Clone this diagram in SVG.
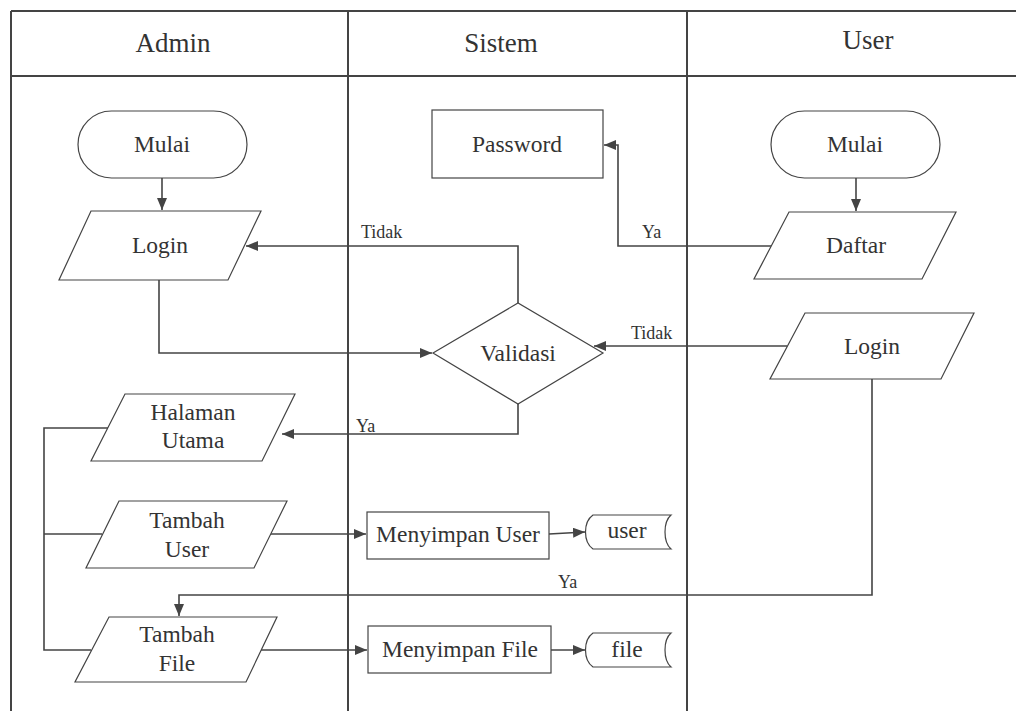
<svg xmlns="http://www.w3.org/2000/svg" width="1016" height="711" viewBox="0 0 1016 711">
<style>
.lane{stroke:#444;stroke-width:2;fill:none}
.shape{fill:#fff;stroke:#444;stroke-width:1.2}
.conn{fill:none;stroke:#444;stroke-width:1.6}
text{font-family:"Liberation Serif","Times New Roman",Tinos,"DejaVu Serif",serif;fill:#333}
.hd{font-size:27px;text-anchor:middle}
.t{font-size:23.5px;text-anchor:middle}
.lbl{font-size:18px}
</style>
<defs>
<marker id="ah" viewBox="0 0 12 10" refX="12" refY="5" markerWidth="12" markerHeight="10" markerUnits="userSpaceOnUse" orient="auto">
<path d="M0,0 L12,5 L0,10 Z" fill="#444"/>
</marker>
</defs>
<rect width="1016" height="711" fill="#fff"/>
<g id="lanes">
<line class="lane" x1="11" y1="11" x2="1016" y2="11"/>
<line class="lane" x1="11" y1="76" x2="1016" y2="76"/>
<line class="lane" x1="11" y1="11" x2="11" y2="711"/>
<line class="lane" x1="348" y1="11" x2="348" y2="711"/>
<line class="lane" x1="687" y1="11" x2="687" y2="711"/>
<text class="hd" x="173" y="52">Admin</text>
<text class="hd" x="501" y="52">Sistem</text>
<text class="hd" x="868" y="49">User</text>
</g>
<g id="connectors">
<line class="conn" x1="162" y1="178" x2="162" y2="210" marker-end="url(#ah)"/>
<line class="conn" x1="856" y1="178" x2="856" y2="211" marker-end="url(#ah)"/>
<polyline class="conn" points="772,246 618,246 618,145 604,145" marker-end="url(#ah)"/>
<polyline class="conn" points="518,303 518,246 246,246" marker-end="url(#ah)"/>
<polyline class="conn" points="159,280 159,353 432,353" marker-end="url(#ah)"/>
<line class="conn" x1="787" y1="346" x2="594" y2="346" marker-end="url(#ah)"/>
<polyline class="conn" points="518,404 518,434 282,434" marker-end="url(#ah)"/>
<polyline class="conn" points="108,428 44,428 44,650 91,650"/>
<line class="conn" x1="44" y1="534" x2="102" y2="534"/>
<line class="conn" x1="271" y1="534" x2="366" y2="534" marker-end="url(#ah)"/>
<line class="conn" x1="549" y1="534" x2="585" y2="532" marker-end="url(#ah)"/>
<line class="conn" x1="261" y1="650" x2="367" y2="650" marker-end="url(#ah)"/>
<line class="conn" x1="551" y1="650" x2="585" y2="650" marker-end="url(#ah)"/>
<polyline class="conn" points="872,379 872,595 179,595 179,616" marker-end="url(#ah)"/>
<text class="lbl" x="361" y="238">Tidak</text>
<text class="lbl" x="642" y="238">Ya</text>
<text class="lbl" x="631" y="339">Tidak</text>
<text class="lbl" x="356" y="432">Ya</text>
<text class="lbl" x="558" y="588">Ya</text>
</g>
<g id="mulai-admin">
<rect class="shape" x="78" y="111" width="169" height="67" rx="33.5"/>
<text class="t" x="162" y="152">Mulai</text>
</g>
<g id="login-admin">
<polygon class="shape" points="91,211 261,211 228,280 59,280"/>
<text class="t" x="160" y="253">Login</text>
</g>
<g id="password">
<rect class="shape" x="432" y="110" width="171" height="68"/>
<text class="t" x="517" y="152">Password</text>
</g>
<g id="mulai-user">
<rect class="shape" x="771" y="111" width="169" height="67" rx="33.5"/>
<text class="t" x="855" y="152">Mulai</text>
</g>
<g id="daftar">
<polygon class="shape" points="789,212 956,212 922,279 754,279"/>
<text class="t" x="856" y="253">Daftar</text>
</g>
<g id="validasi">
<polygon class="shape" points="433,353 518,303 603,353 518,404"/>
<text class="t" x="518" y="361">Validasi</text>
</g>
<g id="login-user">
<polygon class="shape" points="805,313 974,313 941,379 770,379"/>
<text class="t" x="872" y="354">Login</text>
</g>
<g id="halaman-utama">
<polygon class="shape" points="125,394 295,394 262,461 91,461"/>
<text class="t" x="193" y="420">Halaman</text>
<text class="t" x="193" y="448">Utama</text>
</g>
<g id="tambah-user">
<polygon class="shape" points="119,501 287,501 254,568 86,568"/>
<text class="t" x="187" y="528">Tambah</text>
<text class="t" x="187" y="557">User</text>
</g>
<g id="menyimpan-user">
<rect class="shape" x="367" y="512" width="182" height="47"/>
<text class="t" x="458" y="542">Menyimpan User</text>
</g>
<g id="user-store">
<path class="shape" d="M593,515 L671,515 C663,522 663,542 671,549 L593,549 C583,542 583,522 593,515 Z"/>
<text class="t" x="627" y="538">user</text>
</g>
<g id="tambah-file">
<polygon class="shape" points="109,617 277,617 246,682 75,682"/>
<text class="t" x="177" y="642">Tambah</text>
<text class="t" x="177" y="671">File</text>
</g>
<g id="menyimpan-file">
<rect class="shape" x="368" y="626" width="183" height="47"/>
<text class="t" x="460" y="657">Menyimpan File</text>
</g>
<g id="file-store">
<path class="shape" d="M593,633 L671,633 C663,640 663,660 671,667 L593,667 C583,660 583,640 593,633 Z"/>
<text class="t" x="627" y="657">file</text>
</g>
</svg>
